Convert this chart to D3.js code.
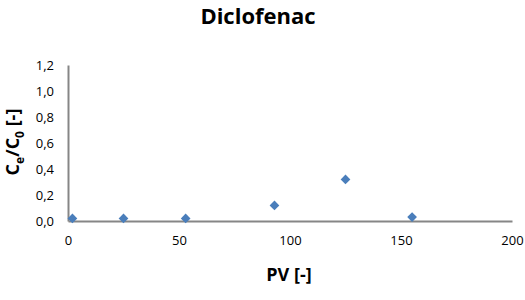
<!DOCTYPE html>
<html>
<head>
<meta charset="utf-8">
<script src="https://cdn.jsdelivr.net/npm/d3@7"></script>
<style>
  body { margin: 0; background: #fff; }
  text { font-family: "Open Sans", sans-serif; }
</style>
</head>
<body>
<div id="chart"></div>
<script>
// datos
const pv = [2, 25, 53, 93, 125, 155];
const ratio = [0.02, 0.02, 0.02, 0.12, 0.32, 0.03];
const xTicks = [0, 50, 100, 150, 200];
const yTicks = [0, 0.2, 0.4, 0.6, 0.8, 1.0, 1.2];

const width = 525, height = 300;
const margin = { top: 65, right: 13, bottom: 79, left: 68 };

const svg = d3.select("#chart").append("svg")
    .attr("width", width)
    .attr("height", height);

const x = d3.scaleLinear([0, 200], [margin.left, width - margin.right]);
const y = d3.scaleLinear([0, 1.2], [height - margin.bottom, margin.top]);

const fmt = d => d3.format(".1f")(d).replace(".", ",");

// eje x
svg.append("g")
    .attr("transform", `translate(0,${height - margin.bottom})`)
    .call(d3.axisBottom(x).tickValues(xTicks).tickSize(0).tickPadding(15))
    .call(g => g.select(".domain").attr("stroke", "#868686").attr("stroke-width", 2))
    .call(g => g.selectAll("text").attr("font-size", 13).attr("fill", "#000"));

// eje y
svg.append("g")
    .attr("transform", `translate(${margin.left},0)`)
    .call(d3.axisLeft(y).tickValues(yTicks).tickFormat(fmt).tickSize(0).tickPadding(14))
    .call(g => g.select(".domain").attr("stroke", "#868686").attr("stroke-width", 2))
    .call(g => g.selectAll("text").attr("font-size", 13).attr("fill", "#000"));

// puntos
const diamond = d3.symbol(d3.symbolDiamond2, 60);
svg.append("g")
  .selectAll("path")
  .data(pv.map((d, i) => [d, ratio[i]]))
  .join("path")
    .attr("d", diamond)
    .attr("transform", d => `translate(${x(d[0])},${y(d[1])})`)
    .attr("fill", "#4a7ebb");

// titulos
svg.append("text")
    .attr("x", 258).attr("y", 24)
    .attr("text-anchor", "middle")
    .attr("font-size", 22).attr("font-weight", "bold")
    .text("Diclofenac");

svg.append("text")
    .attr("x", 289).attr("y", 281)
    .attr("text-anchor", "middle")
    .attr("font-size", 18).attr("font-weight", "bold")
    .text("PV [-]");

const yl = svg.append("text")
    .attr("transform", "translate(19,142) rotate(-90)")
    .attr("text-anchor", "middle")
    .attr("font-size", 18).attr("font-weight", "bold");
yl.append("tspan").text("C");
yl.append("tspan").attr("font-size", 12).attr("dy", 5).text("e");
yl.append("tspan").attr("dy", -5).text("/C");
yl.append("tspan").attr("font-size", 12).attr("dy", 5).text("0");
yl.append("tspan").attr("dy", -5).text(" [-]");
</script>
</body>
</html>
